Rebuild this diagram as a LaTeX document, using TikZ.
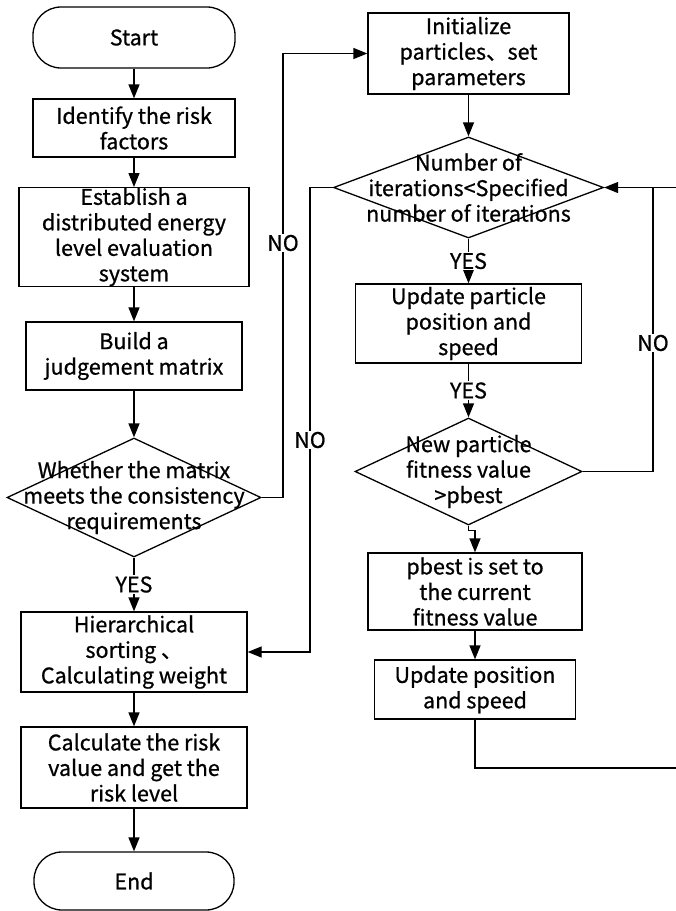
\documentclass[tikz,border=0pt]{standalone}
\usepackage{fontspec}
\setmainfont{Noto Sans CJK SC}[FakeBold=0.8]
\usetikzlibrary{shapes.geometric}
\usetikzlibrary{arrows.meta}
\usetikzlibrary{positioning}

\begin{document}
\begin{tikzpicture}[x=1pt,y=-1pt,
  every node/.style={font=\fontsize{21.5}{25.5}\selectfont,align=center,inner sep=0pt},
  proc/.style={draw,rectangle,line width=1.3pt},
  term/.style={draw,rectangle,rounded corners=28pt,line width=1.3pt},
  decision/.style={draw,diamond,line width=1.3pt},
  link/.style={line width=1.3pt},
  flow/.style={link,-{Triangle[length=14pt,width=11pt]}},
  tag/.style={fill=white,inner sep=1pt}]
\useasboundingbox (0,0) rectangle (676,911);

% left column
\node[term,minimum width=202pt,minimum height=61pt] (start) at (134,37.5) {Start};
\node[proc,minimum width=202pt,minimum height=58pt] (ident) at (134,128) {Identify the risk\\factors};
\node[proc,minimum width=230pt,minimum height=94pt] (estab) at (134,237) {Establish a\\distributed energy\\level evaluation\\system};
\node[proc,minimum width=216pt,minimum height=68pt] (build) at (134,356) {Build a\\judgement matrix};
\node[decision,minimum width=254pt,minimum height=119pt,
  label={center:{Whether the matrix\\meets the consistency\\requirements}}] (judge) at (134,497.5) {};
\node[proc,minimum width=226pt,minimum height=80pt] (hier) at (134,652) {Hierarchical\\sorting 、\\Calculating weight};
\node[proc,minimum width=226pt,minimum height=81pt] (calc) at (134,767.5) {Calculate the risk\\value and get the\\risk level};
\node[term,minimum width=200pt,minimum height=58pt] (end) at (134,881) {End};

% right column
\node[proc,minimum width=201pt,minimum height=81pt] (init) at (468.5,53.5) {Initialize\\particles、set\\parameters};
\node[decision,minimum width=270pt,minimum height=101pt,
  label={center:{Number of\\iterations<Specified\\number of iterations}}] (iter) at (468.5,187.5) {};
\node[proc,minimum width=226pt,minimum height=79pt] (upart) at (468.5,323.5) {Update particle\\position and\\speed};
\node[decision,minimum width=227pt,minimum height=107pt,
  label={center:{New particle\\fitness value\\>pbest}}] (fit) at (468.5,471.5) {};
\node[proc,minimum width=214pt,minimum height=77pt] (pbest) at (475,591.5) {pbest is set to\\the current\\fitness value};
\node[proc,minimum width=201pt,minimum height=59pt] (upos) at (475,689.5) {Update position\\and speed};

\coordinate (jno) at (283,243);
\coordinate (ino) at (310,440);
\coordinate (fno) at (653,343);
\coordinate (lb) at (690,768);
\coordinate (lt) at (690,187.5);

\draw[flow] (start.south) -- (ident.north);
\draw[flow] (ident.south) -- (estab.north);
\draw[flow] (estab.south) -- (build.north);
\draw[flow] (build.south) -- (judge.north);
\draw[flow] (judge.south) -- node[tag]{YES} (hier.north);
\draw[flow] (hier.south) -- (calc.north);
\draw[flow] (calc.south) -- (end.north);
\draw[flow] (judge.east) -| (jno) node[tag]{NO} |- (init.west);

\draw[flow] (init.south) -- (iter.north);
\draw[flow] (iter.south) -- node[tag]{YES} (upart.north);
\draw[flow] (upart.south) -- node[tag]{YES} (fit.north);
\draw[flow] (fit.south) -- ++(0,5) -| (pbest.north);
\draw[flow] (pbest.south) -- (upos.north);
\draw[flow] (iter.west) -| (ino) node[tag]{NO} |- (hier.east);
\draw[link] (fit.east) -| (fno) node[tag]{NO} -- (fno |- iter.east);
\draw[flow] (upos.south) |- (lb) -- (lt) -- (iter.east);
\end{tikzpicture}
\end{document}
